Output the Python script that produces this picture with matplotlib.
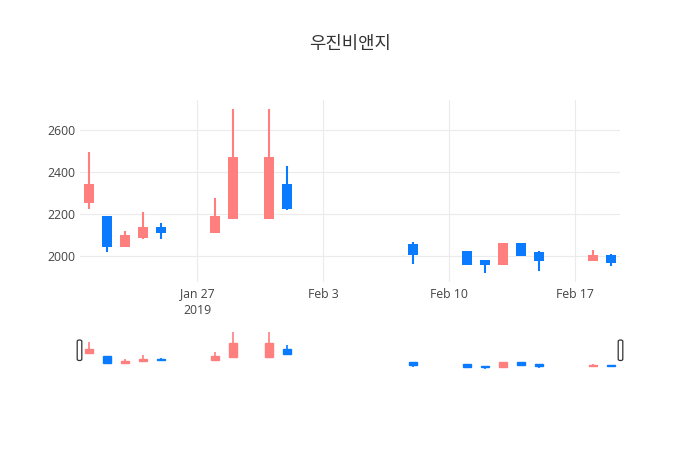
import matplotlib
matplotlib.use("Agg")
import matplotlib.pyplot as plt
import matplotlib.dates as mdates
from matplotlib.patches import FancyBboxPatch
import datetime as dt

# ---- data ----
dates = ["2019-01-21", "2019-01-22", "2019-01-23", "2019-01-24", "2019-01-25",
         "2019-01-28", "2019-01-29", "2019-01-31", "2019-02-01", "2019-02-08",
         "2019-02-11", "2019-02-12", "2019-02-13", "2019-02-14", "2019-02-15",
         "2019-02-18", "2019-02-19"]
open_ = [2260, 2185, 2050, 2090, 2135, 2115, 2180, 2180, 2340, 2055,
         2020, 1975, 1965, 2060, 2015, 1980, 2000]
high = [2495, 2185, 2120, 2210, 2160, 2275, 2700, 2700, 2430, 2065,
        2025, 1980, 2060, 2060, 2025, 2030, 2010]
low = [2225, 2020, 2050, 2080, 2080, 2115, 2180, 2180, 2220, 1965,
       1960, 1920, 1965, 2000, 1930, 1980, 1955]
close = [2340, 2050, 2095, 2135, 2115, 2185, 2465, 2465, 2230, 2010,
         1965, 1965, 2060, 2005, 1980, 2000, 1970]
title = "우진비앤지"
xtick_dates = ["2019-01-27", "2019-02-03", "2019-02-10", "2019-02-17"]
xtick_labels = ["Jan 27\n2019", "Feb 3", "Feb 10", "Feb 17"]
ytick_vals = [2000, 2200, 2400, 2600]

UP = "#FF7F7F"
DOWN = "#0A7BFF"
TXT = "#444444"
GRID = "#EBEBEB"

W, H = 700, 450
fig = plt.figure(figsize=(7, 4.5), dpi=100)
plt.rcParams['font.family'] = ['Open Sans', 'DejaVu Sans']

def ax_rect(x0, y0, x1, y1):
    return [x0 / W, 1 - y1 / H, (x1 - x0) / W, (y1 - y0) / H]

xs = [mdates.date2num(dt.datetime.strptime(d, "%Y-%m-%d")) for d in dates]
xmin = mdates.date2num(dt.datetime(2019, 1, 20, 12))
xmax = mdates.date2num(dt.datetime(2019, 2, 19, 12))

def draw_candles(ax, lw, wick_lw):
    for x, o, h, l, c in zip(xs, open_, high, low, close):
        col = UP if c >= o else DOWN
        ax.vlines(x, l, h, color=col, linewidth=wick_lw, zorder=3)
        lo, hi = min(o, c), max(o, c)
        ax.bar(x, hi - lo, bottom=lo, width=0.48, color=col, edgecolor=col,
               linewidth=lw, zorder=4)

# main axes
ax = fig.add_axes(ax_rect(80, 100, 620, 282))
draw_candles(ax, 1.44, 1.5)
ax.set_xlim(xmin, xmax)
ax.set_ylim(1877, 2743)
ax.set_yticks(ytick_vals)
ax.set_yticklabels([str(v) for v in ytick_vals])
ax.set_xticks([mdates.date2num(dt.datetime.strptime(d, "%Y-%m-%d")) for d in xtick_dates])
ax.set_xticklabels(xtick_labels, linespacing=1.3)
ax.grid(True, color=GRID, linewidth=0.8, zorder=0)
ax.set_axisbelow(True)
for s in ax.spines.values():
    s.set_visible(False)
ax.tick_params(axis='both', length=0, labelsize=8.8, colors=TXT)
ax.tick_params(axis='y', pad=3)
ax.tick_params(axis='x', pad=4)

# range slider
axs = fig.add_axes(ax_rect(80, 330, 620, 370))
draw_candles(axs, 1.0, 1.2)
axs.set_xlim(xmin, xmax)
axs.set_ylim(1895, 2745)
axs.set_xticks([])
axs.set_yticks([])
for s in axs.spines.values():
    s.set_visible(False)

# handles
for hx in (79.5, 620.5):
    x0 = hx - 2.3
    r = FancyBboxPatch((x0 / W, 1 - 360.5 / H), 4.6 / W, 20.5 / H,
                       boxstyle="round,pad=0,rounding_size=0.003",
                       transform=fig.transFigure, facecolor="white",
                       edgecolor="#333333", linewidth=0.9, zorder=10)
    fig.patches.append(r)

fig.text(350 / W, 1 - 44 / H, title, ha='center', va='center', fontsize=12.8,
         color="#333333", fontweight='medium',
         family=['Noto Sans CJK KR', 'DejaVu Sans'])

fig.savefig("out.png", dpi=100, facecolor="white")
